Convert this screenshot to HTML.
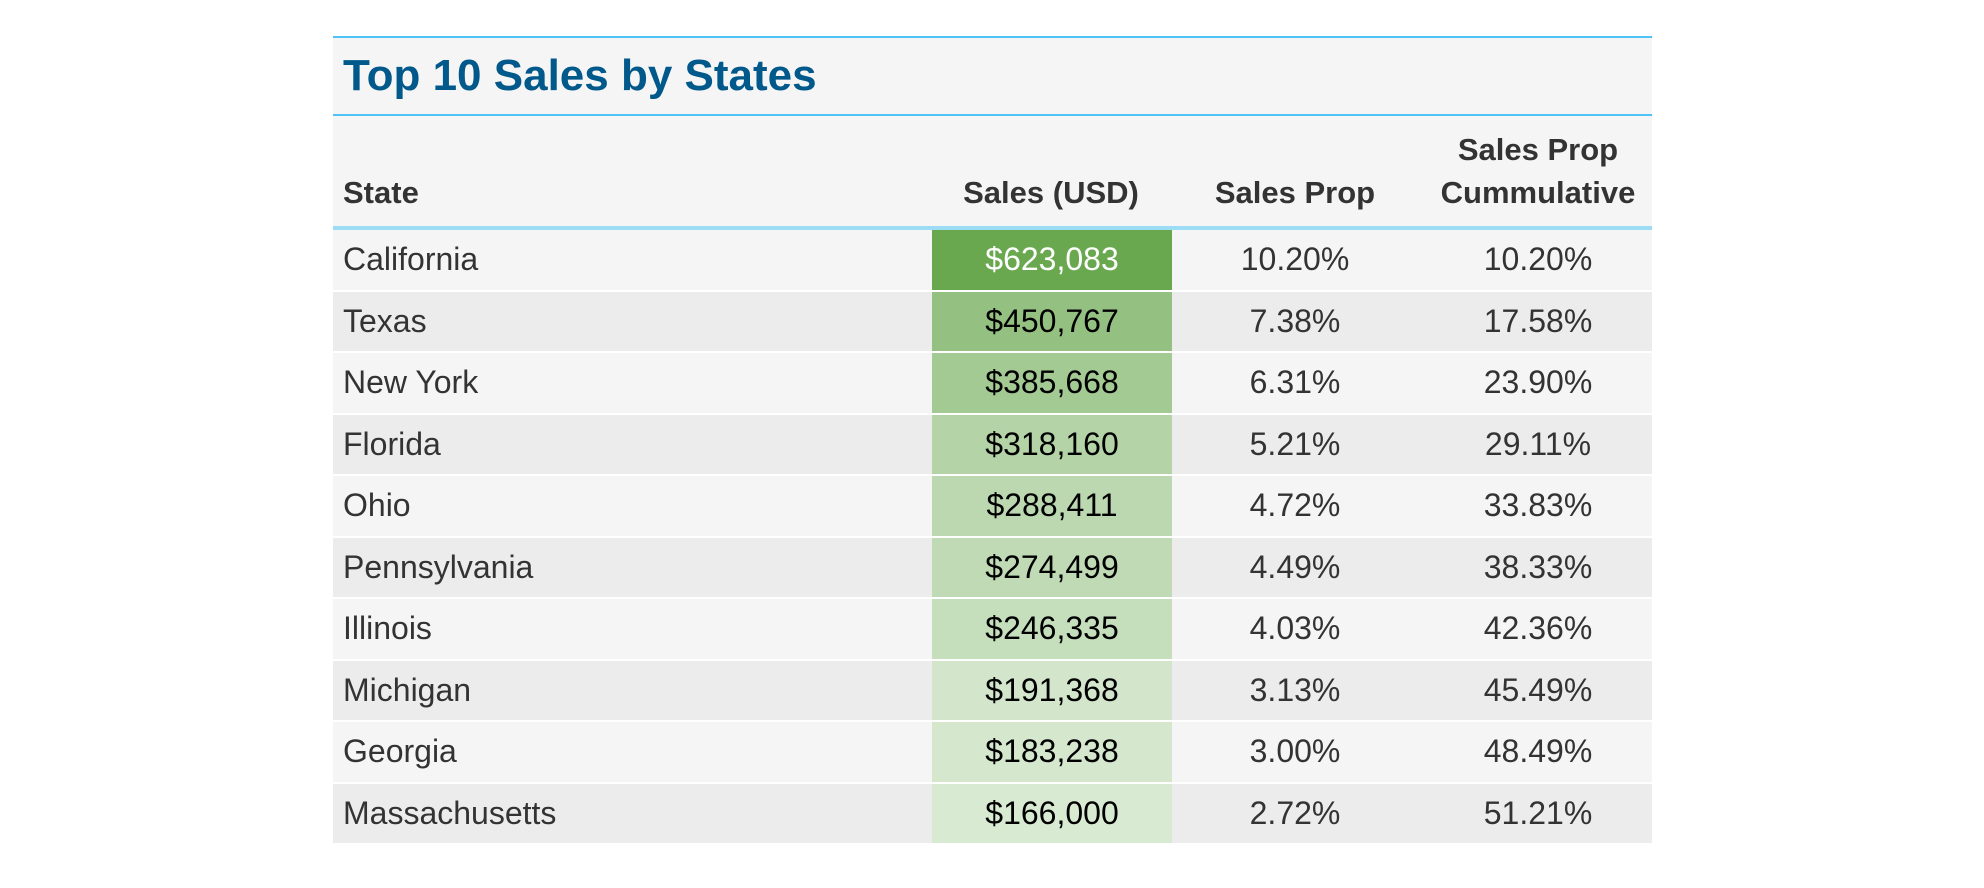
<!DOCTYPE html>
<html><head><meta charset="utf-8">
<style>
body{margin:0;width:1984px;height:888px;background:#fff;overflow:hidden;font-family:"Liberation Sans",sans-serif;}
#tbl{position:absolute;left:333px;top:36px;width:1319px;height:808px;}
.abs{position:absolute;}
.cell{position:absolute;display:flex;align-items:center;font-size:32px;color:#333;}
.hd{font-weight:bold;color:#333;font-size:31px;}
</style></head><body>
<div id="tbl">
  <div class="abs" style="left:0;top:0;width:1319px;height:76px;background:#f5f5f5;border-top:2px solid #4fc3f7;border-bottom:2px solid #4fc3f7;"></div>
  <div class="abs" style="left:10px;top:15px;font-size:44px;font-weight:bold;color:#00588b;">Top 10 Sales by States</div>
  <div class="abs" style="left:0;top:80px;width:1319px;height:110px;background:#f5f5f5;border-bottom:4px solid #9cdcf5;"></div>
  <div class="abs hd" style="left:10px;top:139px;">State</div>
  <div class="abs hd" style="left:598px;width:240px;text-align:center;top:139px;">Sales (USD)</div>
  <div class="abs hd" style="left:842px;width:240px;text-align:center;top:139px;">Sales Prop</div>
  <div class="abs hd" style="left:1080px;width:250px;text-align:center;top:92px;line-height:43px;">Sales Prop<br>Cummulative</div>
  <div id="rows"></div>
</div>
<script>
const states=["California","Texas","New York","Florida","Ohio","Pennsylvania","Illinois","Michigan","Georgia","Massachusetts"];
const sales=[623083,450767,385668,318160,288411,274499,246335,191368,183238,166000];
const props=["10.20%","7.38%","6.31%","5.21%","4.72%","4.49%","4.03%","3.13%","3.00%","2.72%"];
const cumul=["10.20%","17.58%","23.90%","29.11%","33.83%","38.33%","42.36%","45.49%","48.49%","51.21%"];
const rows=document.getElementById('rows');
const top0=194, rh=61.5;
const maxV=Math.max(...sales), minV=Math.min(...sales);
const dark=[106,168,79], light=[217,234,211];
function colorFor(v){const t=(v-minV)/(maxV-minV);return 'rgb('+dark.map((d,i)=>Math.round(light[i]+(d-light[i])*t)).join(',')+')';}
states.forEach((s,i)=>{
  const y=top0+i*rh;
  const bg=document.createElement('div');
  
  
  bg.className='abs';
  bg.style.cssText=`left:0;top:${y}px;width:1319px;height:${rh-2}px;background:${i%2?'#ececec':'#f5f5f5'}`;
  rows.appendChild(bg);
  const mk=(txt,l,w,name,align,extra)=>{const c=document.createElement('div');
    
    
    c.className='cell';c.textContent=txt;
    c.style.cssText=`left:${l}px;width:${w}px;top:${y}px;height:${rh-2}px;justify-content:${align};`+(extra||'');rows.appendChild(c);return c;};
  mk(s,10,500,'state-cell','flex-start');
  mk('$'+sales[i].toLocaleString('en-US'),599,240,'sales-cell','center',`background:${colorFor(sales[i])};color:${i==0?'#fff':'#000'};`);
  mk(props[i],842,240,'sales-prop-cell','center');
  mk(cumul[i],1085,240,'cumulative-cell','center');
});
</script>
</body></html>
